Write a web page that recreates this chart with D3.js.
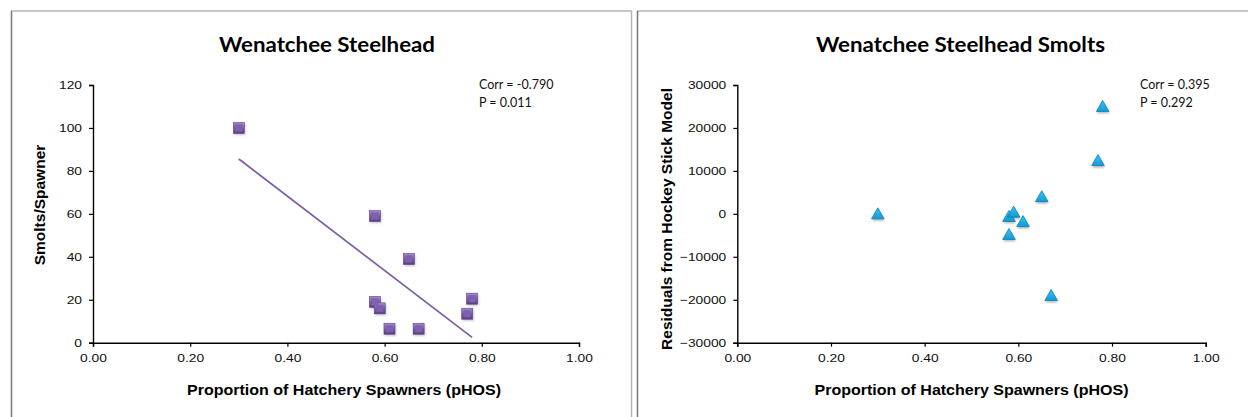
<!DOCTYPE html>
<html>
<head>
<meta charset="utf-8">
<script src="https://cdn.jsdelivr.net/npm/d3@7"></script>
<style>
  html, body { margin: 0; padding: 0; background: #fff; }
  svg { display: block; }
</style>
</head>
<body>
<svg id="chart" width="1248" height="417"></svg>
<script>
// ---------- data ----------
const pHOS = [0.30, 0.58, 0.65, 0.58, 0.59, 0.61, 0.67, 0.77, 0.78];
const smoltsPerSpawner = [100, 59, 39, 19, 16, 6.5, 6.5, 13.5, 20.5];
const pHOSResid = [0.30, 0.58, 0.59, 0.61, 0.58, 0.65, 0.67, 0.77, 0.78];
const residuals = [0, -600, 400, -1800, -4800, 4000, -19000, 12400, 25000];
const xTicks = [0, 0.2, 0.4, 0.6, 0.8, 1.0];
const yTicksLeft = [0, 20, 40, 60, 80, 100, 120];
const yTicksRight = [-30000, -20000, -10000, 0, 10000, 20000, 30000];
const titles = ["Wenatchee Steelhead", "Wenatchee Steelhead Smolts"];
const yTitles = ["Smolts/Spawner", "Residuals from Hockey Stick Model"];
const xTitle = "Proportion of Hatchery Spawners (pHOS)";
const statsLeft = ["Corr = -0.790", "P = 0.011"];
const statsRight = ["Corr = 0.395", "P = 0.292"];

// ---------- setup ----------
const svg = d3.select("#chart");
const SX = 1.17; // horizontal stretch of the reference text
const defs = svg.append("defs");

const gSq = defs.append("linearGradient").attr("id", "gSq").attr("x1", 0).attr("y1", 0).attr("x2", 0).attr("y2", 1);
gSq.append("stop").attr("offset", "0%").attr("stop-color", "#a68fd0");
gSq.append("stop").attr("offset", "45%").attr("stop-color", "#7d5fae");
gSq.append("stop").attr("offset", "100%").attr("stop-color", "#5a3d86");
const gTri = defs.append("linearGradient").attr("id", "gTri").attr("x1", 0).attr("y1", 0).attr("x2", 0).attr("y2", 1);
gTri.append("stop").attr("offset", "0%").attr("stop-color", "#3cc4f2");
gTri.append("stop").attr("offset", "100%").attr("stop-color", "#0f9bd6");
const blur = defs.append("filter").attr("id", "shadow").attr("x", "-50%").attr("y", "-50%").attr("width", "200%").attr("height", "200%");
blur.append("feGaussianBlur").attr("stdDeviation", 0.9);

// panel frames
function frame(x0, x1) {
  svg.append("rect").attr("x", x0).attr("y", 11).attr("width", x1 - x0).attr("height", 420)
    .attr("fill", "none").attr("stroke", "#b5b5b5").attr("stroke-width", 1.5);
  svg.append("line").attr("x1", x0).attr("x2", x0).attr("y1", 11).attr("y2", 417)
    .attr("stroke", "#7a7a7a").attr("stroke-width", 1.3);
}
frame(11.5, 631.5);
frame(637.5, 1260);

function stretchedText(g, x, y, txt, opts) {
  const t = g.append("text")
    .attr("transform", `translate(${x},${y}) scale(${opts.sx || 1},1)`)
    .attr("text-anchor", opts.anchor || "middle")
    .attr("font-family", opts.family)
    .attr("font-size", opts.size)
    .attr("font-weight", opts.weight || "normal")
    .attr("fill", opts.fill || "#000")
    .text(txt);
  return t;
}

function panel(cfg) {
  const x = d3.scaleLinear().domain([0, 1]).range([cfg.x0, cfg.x1]);
  const y = d3.scaleLinear().domain(cfg.yDomain).range([342.7, 85]);
  const g = svg.append("g");

  // axes
  const xa = g.append("g").attr("transform", "translate(0,342.7)")
    .call(d3.axisBottom(x).tickValues(xTicks).tickFormat(d3.format(".2f")).tickSize(4).tickSizeOuter(4));
  const ya = g.append("g").attr("transform", `translate(${cfg.x0},0)`)
    .call(d3.axisLeft(y).tickValues(cfg.yTicks).tickFormat(d3.format("d")).tickSize(4).tickSizeOuter(4));
  [xa, ya].forEach(a => {
    a.select(".domain").attr("stroke", "#000").attr("stroke-width", 1.4);
    a.selectAll(".tick line").attr("stroke", "#000").attr("stroke-width", 1.2);
    a.selectAll("text").attr("font-family", "'Liberation Sans', Arial, sans-serif")
      .attr("font-size", 11.8).attr("fill", "#111");
  });
  xa.selectAll(".tick text").attr("y", null).attr("dy", null)
    .attr("transform", `translate(0,19.6) scale(${SX},1)`);
  ya.selectAll(".tick text").attr("x", null)
    .attr("transform", `translate(-11,0) scale(${SX},1)`);

  // titles
  stretchedText(g, cfg.titleX, 52, cfg.title, {family: "Lato, 'Open Sans', sans-serif", size: 21, weight: "bold"})
    .attr("textLength", cfg.titleW).attr("lengthAdjust", "spacingAndGlyphs");
  stretchedText(g, cfg.xTitleX, 395, xTitle, {family: "'Liberation Sans', Arial, sans-serif", size: 15.5, weight: "bold"})
    .attr("textLength", 314).attr("lengthAdjust", "spacingAndGlyphs");
  g.append("text")
    .attr("transform", `translate(${cfg.yLabelX},${cfg.yLabelY}) rotate(-90)`)
    .attr("text-anchor", "middle")
    .attr("font-family", "'Liberation Sans', Arial, sans-serif")
    .attr("font-size", 15.5).attr("font-weight", "bold")
    .text(cfg.yTitle);

  // stats
  cfg.stats.forEach((s, i) => {
    stretchedText(g, cfg.statX, 89 + i * 18, s, {family: "Lato, 'Open Sans', sans-serif", size: 12.5, anchor: "start", sx: 1.0, fill: "#111"});
  });
  return {g, x, y};
}

// ---------- left panel ----------
const L = panel({x0: 93, x1: 579, yDomain: [0, 120], yTicks: yTicksLeft,
  title: titles[0], titleX: 327, titleW: 216, xTitleX: 344, yTitle: yTitles[0], yLabelX: 45, yLabelY: 205,
  stats: statsLeft, statX: 479});

// regression line computed from the data
const mx = d3.mean(pHOS), my = d3.mean(smoltsPerSpawner);
const sxy = d3.sum(pHOS, (v, i) => (v - mx) * (smoltsPerSpawner[i] - my));
const sxx = d3.sum(pHOS, v => (v - mx) * (v - mx));
const slope = sxy / sxx, icpt = my - slope * mx;
const xr = d3.extent(pHOS);
L.g.append("line")
  .attr("x1", L.x(xr[0])).attr("y1", L.y(icpt + slope * xr[0]))
  .attr("x2", L.x(xr[1])).attr("y2", L.y(icpt + slope * xr[1]))
  .attr("stroke", "#7b5ea6").attr("stroke-width", 1.7);

const sqData = pHOS.map((v, i) => [v, smoltsPerSpawner[i]]);
const S = 11;
L.g.selectAll("rect.sh").data(sqData).join("rect").attr("class", "sh")
  .attr("x", d => L.x(d[0]) - S / 2 + 1).attr("y", d => L.y(d[1]) - S / 2 + 1.5)
  .attr("width", S).attr("height", S).attr("fill", "#777").attr("opacity", 0.45).attr("filter", "url(#shadow)");
L.g.selectAll("rect.pt").data(sqData).join("rect").attr("class", "pt")
  .attr("x", d => L.x(d[0]) - S / 2).attr("y", d => L.y(d[1]) - S / 2)
  .attr("width", S).attr("height", S).attr("fill", "url(#gSq)").attr("stroke", "#5d4289").attr("stroke-width", 0.6);
L.g.selectAll("rect.hl").data(sqData).join("rect").attr("class", "hl")
  .attr("x", d => L.x(d[0]) - S / 2 + 2).attr("y", d => L.y(d[1]) - S / 2 + 2)
  .attr("width", S - 4).attr("height", S - 4).attr("fill", "#7e60ad");

// ---------- right panel ----------
const R = panel({x0: 737.3, x1: 1205.7, yDomain: [-30000, 30000], yTicks: yTicksRight,
  title: titles[1], titleX: 960.5, titleW: 289, xTitleX: 971.5, yTitle: yTitles[1], yLabelX: 672, yLabelY: 219,
  stats: statsRight, statX: 1140});

const triData = pHOSResid.map((v, i) => [v, residuals[i]]);
const tri = (cx, cy) => `M${cx},${cy - 6}L${cx + 6.3},${cy + 5}L${cx - 6.3},${cy + 5}Z`;
R.g.selectAll("path.sh").data(triData).join("path").attr("class", "sh")
  .attr("d", d => tri(R.x(d[0]) + 0.5, R.y(d[1]) + 1.8))
  .attr("fill", "#666").attr("opacity", 0.5).attr("filter", "url(#shadow)");
R.g.selectAll("path.pt").data(triData).join("path").attr("class", "pt")
  .attr("d", d => tri(R.x(d[0]), R.y(d[1])))
  .attr("fill", "url(#gTri)").attr("stroke", "#0b7fb3").attr("stroke-width", 0.8);
</script>
</body>
</html>
